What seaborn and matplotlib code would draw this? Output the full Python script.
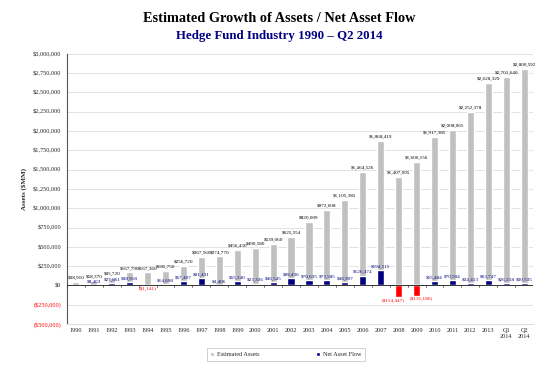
import numpy as np
import pandas as pd
import matplotlib.pyplot as plt
import seaborn as sns
from matplotlib.patches import Patch

# data ($MM)
years = ["1990", "1991", "1992", "1993", "1994", "1995", "1996", "1997", "1998",
         "1999", "2000", "2001", "2002", "2003", "2004", "2005", "2006", "2007",
         "2008", "2009", "2010", "2011", "2012", "2013", "Q1\n2014", "Q2\n2014"]
assets = [38910, 58370, 95720, 167790, 167360, 185750, 256720, 367560, 374770,
          456430, 490580, 539060, 625554, 820009, 972608, 1105385, 1464526, 1868419,
          1407095, 1600156, 1917385, 2008065, 2252378, 2628329, 2701640, 2800592]
flows = [np.nan, 8463, 27861, 38918, -1141, 14698, 57407, 91431, 4406,
         55340, 23336, 46545, 99436, 70635, 73585, 46907, 126474, 194515,
         -154447, -131180, 55484, 70594, 34413, 63747, 26218, 30535]

df = pd.DataFrame({"year": years, "assets": assets, "flows": flows})

sns.set_style("white")
plt.rcParams["font.family"] = ["Liberation Serif", "DejaVu Serif"]

fig = plt.figure(figsize=(5.53, 3.69), dpi=100)
ax = fig.add_axes([0.121, 0.122, 0.843, 0.732])

gray = "#c0c0c0"
navy = "#000080"
red = "#ff0000"

sns.barplot(data=df, x="year", y="assets", color=gray, width=0.4,
            saturation=1, ax=ax, zorder=2)
n_assets = len(ax.patches)
sns.barplot(data=df, x="year", y="flows", color=navy, width=0.4,
            saturation=1, ax=ax, zorder=3)
flow_bars = ax.patches[n_assets:]

# negative flows in red
for bar, v in zip(flow_bars, [f for f in flows if not np.isnan(f)]):
    if v < 0:
        bar.set_facecolor(red)

ax.set_ylim(-500000, 3000000)
ax.set_xlim(-0.5, len(years) - 0.5)
ax.set_yticks(np.arange(-500000, 3000001, 250000))

def money(v):
    if v < 0:
        return "(${:,.0f})".format(-v)
    return "${:,.0f}".format(v)

ax.set_yticklabels([money(v) for v in ax.get_yticks()], fontsize=4.5)
for lbl, v in zip(ax.get_yticklabels(), ax.get_yticks()):
    if v < 0:
        lbl.set_color(red)
ax.tick_params(axis="y", length=2, width=0.6, pad=2)
ax.tick_params(axis="x", length=0, labelsize=4.5, pad=3)

ax.set_xlabel("")
ax.set_ylabel("Assets ($MM)", fontsize=5, fontweight="bold", labelpad=4)

ax.yaxis.grid(True, color="#dddddd", lw=0.6, zorder=0)
for s in ["top", "right"]:
    ax.spines[s].set_visible(False)
ax.spines["bottom"].set_color("#dddddd")
ax.spines["left"].set_color("#555555")
ax.spines["left"].set_linewidth(0.8)
ax.axhline(0, color="#333333", lw=0.7, zorder=4)
# small category ticks on the zero line
for i in range(len(years) + 1):
    ax.plot([i - 0.5, i - 0.5], [0, -25000], color="#333333", lw=0.5, zorder=4)

# value labels
for i, v in enumerate(assets):
    ax.text(i, v + 25000, money(v), ha="center", va="bottom", fontsize=3.7, color="black", zorder=5)
neg_shift = {18: -0.3, 19: 0.25}
for i, v in enumerate(flows):
    if np.isnan(v):
        continue
    if v < 0:
        ax.text(i + neg_shift.get(i, 0), v - 20000, money(v), ha="center", va="top",
                fontsize=3.7, color=red, zorder=5)
    else:
        ax.text(i, v + 15000, money(v), ha="center", va="bottom", fontsize=3.7, color=navy, zorder=5)

fig.text(0.505, 0.95, "Estimated Growth of Assets / Net Asset Flow",
         ha="center", va="center", fontsize=10.3, fontweight="bold", color="black")
fig.text(0.505, 0.902, "Hedge Fund Industry 1990 \u2013 Q2 2014",
         ha="center", va="center", fontsize=9.3, fontweight="bold", color=navy)

handles = [Patch(facecolor=gray, label="Estimated Assets"),
           Patch(facecolor=navy, label="Net Asset Flow")]
leg = fig.legend(handles=handles, loc="center", bbox_to_anchor=(0.517, 0.04), ncol=2,
                 fontsize=4.5, frameon=True, fancybox=False, handlelength=0.6,
                 handleheight=0.6, columnspacing=9, borderpad=0.6, handletextpad=0.5)
leg.get_frame().set_edgecolor("#bbbbbb")
leg.get_frame().set_linewidth(0.6)

plt.savefig("out.png", dpi=100)
